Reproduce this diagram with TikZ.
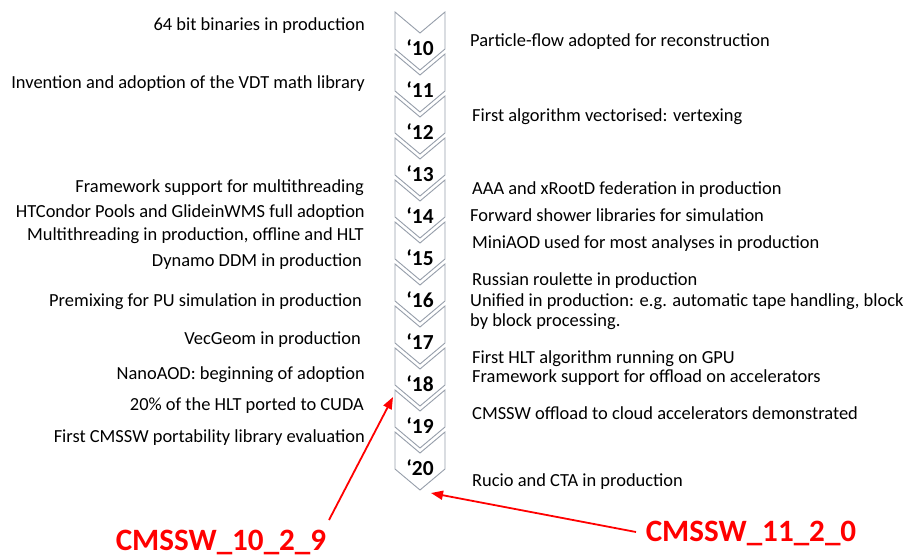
\documentclass[tikz,border=0pt]{standalone}
\usepackage{fontspec}
\setmainfont{Carlito}
\usetikzlibrary{arrows.meta}
\definecolor{chevgray}{RGB}{150,158,170}
\definecolor{lblred}{RGB}{255,0,0}
\tikzset{
  ltxt/.style={anchor=east,inner sep=0pt,yshift=-2bp,font=\fontsize{18.5}{19.5}\selectfont},
  rtxt/.style={anchor=west,inner sep=0pt,yshift=-2bp,align=left,font=\fontsize{18.5}{19.5}\selectfont},
  yr/.style={inner sep=0pt,font=\fontsize{21.5}{24}\selectfont\bfseries},
  chev/.style={draw=chevgray,line width=0.9bp,fill=white,line join=miter},
  rel/.style={inner sep=0pt,text=lblred,font=\fontsize{31.2}{36}\selectfont\bfseries},
  redarrow/.style={draw=lblred,line width=1.8bp,-{Triangle[length=12bp,width=9bp]}}
}
\begin{document}
\begin{tikzpicture}[x=1bp,y=-1bp]
\useasboundingbox (0,0) rectangle (908,558);
% chevrons
\foreach \i [count=\k from 0] in {10,...,20}{
  \pgfmathsetmacro{\t}{12+42*\k}
  \draw[chev] (395,\t) -- (420,\t+21) -- (445,\t) -- (445,\t+37) -- (420,\t+58) -- (395,\t+37) -- cycle;
  \node[yr] (y\i) at (420,\t+36) {‘\i};
}
% left texts
\node[ltxt] (l1) at (365,24) {64 bit binaries in production};
\node[ltxt] (l2) at (365,82) {Invention and adoption of the VDT math library};
\node[ltxt] (l3) at (364,186) {Framework support for multithreading};
\node[ltxt] (l4) at (365,211) {HTCondor Pools and GlideinWMS full adoption};
\node[ltxt] (l5) at (364,234) {Multithreading in production, offline and HLT};
\node[ltxt] (l6) at (362,260) {Dynamo DDM in production};
\node[ltxt] (l7) at (362,300) {Premixing for PU simulation in production};
\node[ltxt] (l8) at (361,338) {VecGeom in production};
\node[ltxt] (l9) at (365,373) {NanoAOD: beginning of adoption};
\node[ltxt] (l10) at (364,404) {20\% of the HLT ported to CUDA};
\node[ltxt] (l11) at (365,436) {First CMSSW portability library evaluation};
% right texts
\node[rtxt] (r1) at (470,40) {Particle-flow adopted for reconstruction};
\node[rtxt] (r2) at (472,115) {First algorithm vectorised: vertexing};
\node[rtxt] (r3) at (472,188) {AAA and xRootD federation in production};
\node[rtxt] (r4) at (470,213) {Forward shower libraries for simulation};
\node[rtxt] (r5) at (472,242) {MiniAOD used for most analyses in production};
\node[rtxt] (r6) at (472,279) {Russian roulette in production};
\node[rtxt] (r7) at (470,309.5) {Unified in production: e.g. automatic tape handling, block\\by block processing.};
\node[rtxt] (r8) at (472,357) {First HLT algorithm running on GPU};
\node[rtxt] (r9) at (472,376) {Framework support for offload on accelerators};
\node[rtxt] (r10) at (472,411) {CMSSW offload to cloud accelerators demonstrated};
\node[rtxt] (r11) at (472,480) {Rucio and CTA in production};
% release labels
\node[rel] (v1) at (221,542) {CMSSW\_10\_2\_9};
\node[rel,yshift=-3bp] (v2) at (751,530) {CMSSW\_11\_2\_0};
\coordinate (a1s) at (329,520);
\coordinate (a1e) at (393,397);
\coordinate (a2s) at (636,532);
\coordinate (a2e) at (431,493);
\draw[redarrow] (a1s) -- (a1e);
\draw[redarrow] (a2s) -- (a2e);
\end{tikzpicture}
\end{document}
